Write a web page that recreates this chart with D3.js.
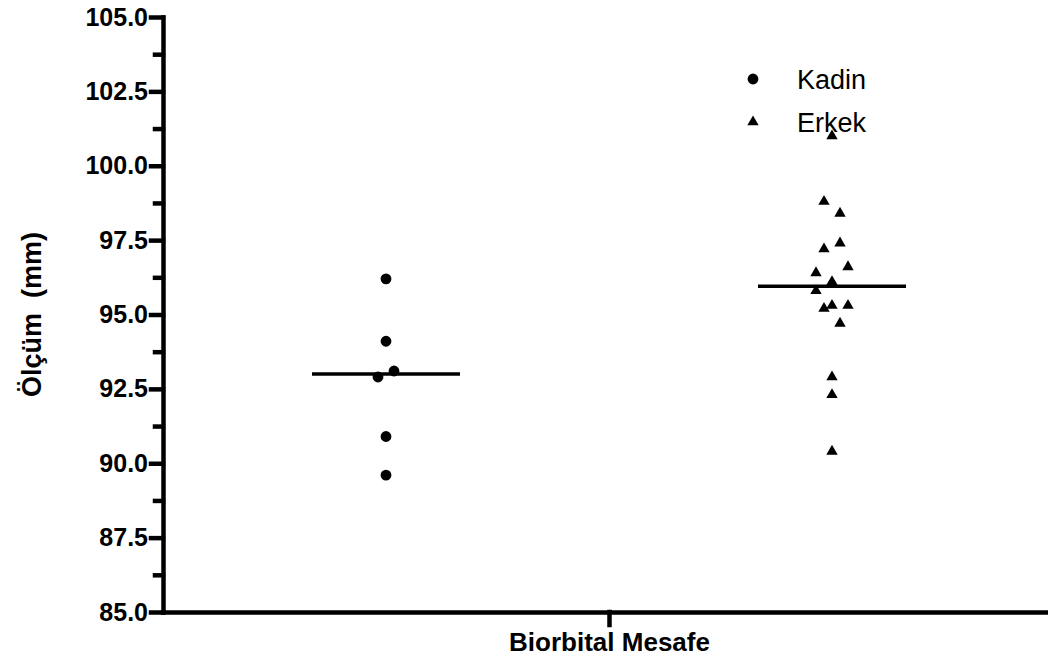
<!DOCTYPE html>
<html>
<head>
<meta charset="utf-8">
<title>Biorbital Mesafe</title>
<script src="https://cdn.jsdelivr.net/npm/d3@7"></script>
<style>
body { margin: 0; background: #fff; }
svg { display: block; font-family: "Liberation Sans", Arial, sans-serif; }
.axis path, .axis line { stroke: #000; stroke-width: 4.5px; stroke-linecap: square; }
.axis text { font-size: 25px; font-weight: bold; fill: #000; }
</style>
</head>
<body>
<script>
// data (mm)
var groups = ["Kadin", "Erkek"];
var kadinValues = [96.2, 94.1, 92.9, 93.1, 90.9, 89.6];
var erkekValues = [101.0, 98.8, 98.4, 97.2, 97.4, 96.4, 96.1, 96.6, 95.8, 95.3, 95.3, 95.2, 94.7, 92.9, 92.3, 90.4];
var yTicks = [85, 87.5, 90, 92.5, 95, 97.5, 100, 102.5, 105];
var yMinorTicks = [86.25, 88.75, 91.25, 93.75, 96.25, 98.75, 101.25, 103.75];
var columnTitle = "Biorbital Mesafe";
var yTitle = "Ölçüm  (mm)";

var w = 1048, h = 660;
var svg = d3.select("body").append("svg").attr("width", w).attr("height", h);

var y = d3.scaleLinear().domain([85, 105]).range([612, 17]);
var x = d3.scaleLinear().domain([0, 1]).range([163, 1055]);
var groupPos = d3.scaleOrdinal().domain(groups).range([0.25, 0.75]);
var shapes = { "Kadin": d3.symbolCircle, "Erkek": d3.symbolTriangle };
var sizes = { "Kadin": 92, "Erkek": 56 };

// prism-like scatter: points close in value share a row and are spread sideways
function scatter(values) {
  var idx = d3.range(values.length).sort(function(a, b) { return values[b] - values[a] || a - b; });
  var out = [];
  var i = 0;
  while (i < idx.length) {
    var row = [idx[i]];
    var j = i + 1;
    while (j < idx.length && values[idx[i]] - values[idx[j]] <= 0.5 + 1e-6) { row.push(idx[j]); j++; }
    row.sort(d3.ascending);
    row.forEach(function(k, n) {
      out.push({ value: values[k], off: (n - (row.length - 1) / 2) * 16 });
    });
    i = j;
  }
  return out;
}

var series = [
  { name: "Kadin", points: scatter(kadinValues), median: d3.median(kadinValues) },
  { name: "Erkek", points: scatter(erkekValues), median: d3.median(erkekValues) }
];

// axes
svg.append("g").attr("class", "axis").attr("transform", "translate(163,0)")
  .call(d3.axisLeft(y).tickValues(yTicks).tickSize(12).tickSizeOuter(0).tickPadding(3).tickFormat(d3.format(".1f")));
svg.append("g").attr("class", "axis").attr("transform", "translate(163,0)")
  .call(d3.axisLeft(y).tickValues(yMinorTicks).tickSize(8).tickSizeOuter(0).tickFormat(""))
  .select(".domain").remove();

var xAxis = svg.append("g").attr("class", "axis").attr("transform", "translate(0,612)")
  .call(d3.axisBottom(x).tickValues([0.5]).tickSize(13).tickSizeOuter(0).tickPadding(8).tickFormat(function() { return columnTitle; }));
xAxis.selectAll("text").style("font-size", "26px");

svg.append("text")
  .attr("transform", "translate(41," + y(95) + ") rotate(-90)")
  .attr("text-anchor", "middle")
  .style("font-size", "27px").style("font-weight", "bold").style("white-space", "pre")
  .attr("xml:space", "preserve")
  .text(yTitle);

// points
series.forEach(function(s) {
  var cx = x(groupPos(s.name));
  svg.append("g").selectAll("path")
    .data(s.points)
    .enter().append("path")
    .attr("d", d3.symbol().type(shapes[s.name]).size(sizes[s.name]))
    .attr("transform", function(d) { return "translate(" + (cx + d.off) + "," + y(d.value) + ")"; })
    .attr("fill", "#000");
  svg.append("line")
    .attr("x1", cx - 74).attr("x2", cx + 74)
    .attr("y1", y(s.median)).attr("y2", y(s.median))
    .attr("stroke", "#000").attr("stroke-width", 3.5);
});

// legend
var legend = svg.append("g").attr("transform", "translate(753,79)");
groups.forEach(function(g, i) {
  legend.append("path")
    .attr("d", d3.symbol().type(shapes[g]).size(sizes[g]))
    .attr("transform", "translate(0," + i * 43 + ")")
    .attr("fill", "#000");
  legend.append("text")
    .attr("x", 44).attr("y", i * 43 + 9.5)
    .style("font-size", "27px").attr("fill", "#000")
    .text(g);
});
</script>
</body>
</html>
